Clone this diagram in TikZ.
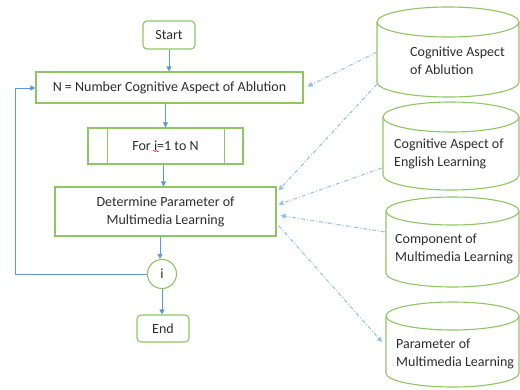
\documentclass[tikz,border=0pt]{standalone}
\usepackage{fontspec}
\setmainfont{Carlito}
\usetikzlibrary{arrows.meta,calc,decorations.pathmorphing}
\definecolor{gr}{RGB}{141,198,98}
\definecolor{bl}{RGB}{91,155,213}
\definecolor{lbl}{RGB}{150,192,232}
\definecolor{tx}{RGB}{45,45,45}
\newcommand\mycyl[5]{%
  \draw[gline] (#1,#3+#5) -- (#1,#4-#5) arc[start angle=180,end angle=0,x radius={(#2-#1)/2},y radius=#5] -- (#2,#3+#5);
  \draw[gline] ({(#1+#2)/2},#3+#5) ellipse[x radius={(#2-#1)/2},y radius=#5];
}
\begin{document}
\begin{tikzpicture}[x=1pt,y=-1pt,
  every node/.style={font=\fontsize{14}{18}\selectfont, text=tx},
  gline/.style={draw=gr, line width=1.1pt},
  box/.style={gline, rectangle, inner sep=0pt, align=center},
  rbox/.style={box, rounded corners=4pt},
  flow/.style={draw=bl, line width=0.9pt, -{Triangle[length=5pt,width=5pt]}},
  dflow/.style={draw=lbl, line width=1pt, dash pattern=on 4pt off 2pt on 1pt off 2pt, -{Triangle[length=5pt,width=5pt]}},
  ctext/.style={anchor=west, align=left, inner sep=0pt}]
\useasboundingbox (0,0) rectangle (520,389);
% flowchart
\node[rbox, minimum width=52pt, minimum height=28pt] (start) at (169,35) {Start};
\node[box, minimum width=267pt, minimum height=31pt] (N) at (169.5,87.5) {N = Number Cognitive Aspect of Ablution};
\node[box, minimum width=155pt, minimum height=36pt] (for) at (165.5,146) {For i=1 to N};
\draw[gline] ([xshift=20pt]for.north west) -- ([xshift=20pt]for.south west);
\draw[gline] ([xshift=-19pt]for.north east) -- ([xshift=-19pt]for.south east);
\draw[red, line width=0.5pt, decorate, decoration={snake, amplitude=0.6pt, segment length=2.5pt}] (153,151) -- (159,151);
\node[box, minimum width=221pt, minimum height=49pt] (det) at (165.5,211.5) {Determine Parameter of\\Multimedia Learning};
\node[gline, circle, minimum size=29pt, inner sep=0pt] (i) at (162,274) {i};
\node[rbox, minimum width=52pt, minimum height=27pt] (end) at (163,328.5) {End};
\coordinate (lp) at (15,88);
\draw[flow] (start.south) -- (start.south |- N.north);
\draw[flow] (for.north |- N.south) -- (for.north);
\draw[flow] ([xshift=-2pt]for.south) -- ([xshift=-2pt]for.south |- det.north);
\draw[flow] ([xshift=-2pt]i.north |- det.south) -- ([xshift=-2pt]i.north);
\draw[flow] (i.south) -- (i.south |- end.north);
\draw[flow] (i.west) -| (lp) -- (N.west |- lp);
% cylinders
\mycyl{377}{519}{7}{97}{15}
\mycyl{383}{519}{102}{190}{15}
\mycyl{386}{519}{197}{287}{14}
\mycyl{386}{519}{302}{387}{14}
\node[ctext] (c1) at (410,61) {Cognitive Aspect\\of Ablution};
\node[ctext] (c2) at (394,154) {Cognitive Aspect of\\English Learning};
\node[ctext] (c3) at (395,249) {Component of\\Multimedia Learning};
\node[ctext] (c4) at (396,354) {Parameter of\\Multimedia Learning};
\coordinate (s1) at (377,52);
\coordinate (s2) at (377,84);
\coordinate (s3) at (382,168);
\coordinate (s4) at (385,232);
\coordinate (t5) at (382,342);
\draw[dflow] (s1) -- ([xshift=4pt,yshift=1pt]N.east);
\draw[dflow] (s2) -- ([xshift=2pt,yshift=21pt]det.east);
\draw[dflow] (s3) -- ([xshift=2pt,yshift=7pt]det.east);
\draw[dflow] (s4) -- ([xshift=4pt,yshift=-4pt]det.east);
\draw[dflow] ([xshift=2pt,yshift=-14pt]det.east) -- (t5);
\end{tikzpicture}
\end{document}
